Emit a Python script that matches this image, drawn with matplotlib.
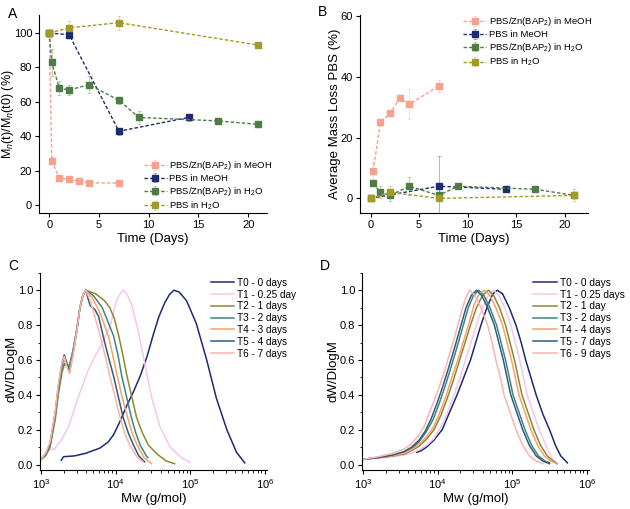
import numpy as np
import matplotlib
matplotlib.use("Agg")
import matplotlib.pyplot as plt
from matplotlib.ticker import MultipleLocator, LogLocator, NullFormatter

plt.rcParams['font.family'] = ['Liberation Sans', 'DejaVu Sans']
plt.rcParams['mathtext.fontset'] = 'custom'
plt.rcParams['mathtext.rm'] = 'Liberation Sans'
plt.rcParams['mathtext.it'] = 'Liberation Sans:italic'

# ---------------- data ----------------
# panel A: Mn(t)/Mn(t0) (%)
a_zn_meoh_x = [0, 0.25, 1, 2, 3, 4, 7]
a_zn_meoh_y = [100, 26, 16, 15, 14, 13, 13]
a_zn_meoh_err = [0, 2, 1, 1, 1, 1, 1]
a_pbs_meoh_x = [0, 2, 7, 14]
a_pbs_meoh_y = [100, 99, 43, 51]
a_pbs_meoh_err = [0, 2, 2, 2]
a_zn_h2o_x = [0, 0.25, 1, 2, 4, 7, 9, 17, 21]
a_zn_h2o_y = [100, 83, 68, 67, 70, 61, 51, 49, 47]
a_zn_h2o_err = [0, 8, 4, 3, 5, 2, 4, 1, 1]
a_pbs_h2o_x = [0, 2, 7, 21]
a_pbs_h2o_y = [100, 103, 106, 93]
a_pbs_h2o_err = [0, 4, 4, 1]

# panel B: average mass loss (%)
b_zn_meoh_x = [0.25, 1, 2, 3, 4, 7]
b_zn_meoh_y = [9, 25, 28, 33, 31, 37]
b_zn_meoh_err = [3, 1, 1, 1, 5, 2]
b_pbs_meoh_x = [0, 7, 14]
b_pbs_meoh_y = [0, 4, 3]
b_pbs_meoh_err = [0, 10, 1]
b_zn_h2o_x = [0.25, 1, 2, 4, 7, 9, 17, 21]
b_zn_h2o_y = [5, 2, 1, 4, 1, 4, 3, 1]
b_zn_h2o_err = [1, 2, 2, 3, 2, 1, 1, 1]
b_pbs_h2o_x = [0, 2, 7, 21]
b_pbs_h2o_y = [0, 2, 0, 1]
b_pbs_h2o_err = [1, 2, 1, 2]

series_labels = ['PBS/Zn(BAP$_2$) in MeOH', 'PBS in MeOH',
                 'PBS/Zn(BAP$_2$) in H$_2$O', 'PBS in H$_2$O']
series_colors = ['#f6a28e', '#1e2b70', '#4f7c45', '#a39a28']

# panel C: molecular weight distributions (log10 Mw, dW/dlogM)
c_labels = ['T0 - 0 days', 'T1 - 0.25 day', 'T2 - 1 days', 'T3 - 2 days',
            'T4 - 3 days', 'T5 - 4 days', 'T6 - 7 days']
c_logm = [
    [3.27, 3.30, 3.45, 3.60, 3.79, 3.90, 3.97, 4.06, 4.15, 4.24, 4.33, 4.42,
     4.50, 4.58, 4.66, 4.72, 4.78, 4.85, 4.95, 5.08, 5.22, 5.35, 5.49, 5.62,
     5.73],
    [3.00, 3.06, 3.12, 3.18, 3.27, 3.37, 3.50, 3.63, 3.72, 3.81, 3.92, 4.01,
     4.06, 4.10, 4.15, 4.21, 4.30, 4.39, 4.48, 4.59, 4.73, 4.88, 5.00],
    [3.00, 3.06, 3.12, 3.19, 3.23, 3.28, 3.31, 3.34, 3.38, 3.43, 3.48, 3.52,
     3.56, 3.60, 3.73, 3.85, 3.92, 3.98, 4.04, 4.10, 4.15, 4.22, 4.28, 4.36,
     4.44, 4.57, 4.68, 4.79],
    [3.00, 3.06, 3.12, 3.19, 3.23, 3.28, 3.31, 3.34, 3.38, 3.43, 3.48, 3.52,
     3.56, 3.60, 3.70, 3.82, 3.97, 4.03, 4.08, 4.15, 4.21, 4.27, 4.33, 4.41,
     4.43],
    [3.00, 3.06, 3.12, 3.19, 3.23, 3.28, 3.31, 3.34, 3.38, 3.43, 3.48, 3.52,
     3.56, 3.60, 3.68, 3.78, 3.90, 3.96, 4.02, 4.09, 4.16, 4.22, 4.29, 4.38,
     4.48],
    [3.00, 3.06, 3.12, 3.19, 3.23, 3.28, 3.31, 3.34, 3.38, 3.43, 3.48, 3.52,
     3.56, 3.60, 3.63, 3.66, 3.72, 3.77, 3.83, 3.90, 3.97, 4.04, 4.10, 4.17,
     4.24, 4.31, 4.39],
    [3.00, 3.06, 3.12, 3.19, 3.23, 3.28, 3.31, 3.34, 3.38, 3.43, 3.48, 3.52,
     3.56, 3.60, 3.65, 3.70, 3.79, 3.86, 3.92, 3.99, 4.06, 4.12, 4.19, 4.26,
     4.32, 4.37],
]
c_dw = [
    [0.025, 0.045, 0.05, 0.065, 0.095, 0.13, 0.17, 0.25, 0.34, 0.42, 0.51, 0.62,
     0.74, 0.85, 0.93, 0.975, 1.0, 0.99, 0.94, 0.81, 0.60, 0.38, 0.20, 0.07,
     0.01],
    [0.03, 0.07, 0.085, 0.09, 0.14, 0.22, 0.39, 0.54, 0.62, 0.69, 0.79, 0.94,
     0.98, 1.0, 0.98, 0.92, 0.77, 0.58, 0.39, 0.22, 0.10, 0.04, 0.013],
    [0.03, 0.05, 0.10, 0.26, 0.40, 0.53, 0.57, 0.57, 0.57, 0.66, 0.78, 0.90,
     0.97, 1.0, 0.98, 0.94, 0.90, 0.84, 0.74, 0.62, 0.51, 0.38, 0.27, 0.18,
     0.11, 0.055, 0.02, 0.005],
    [0.03, 0.055, 0.11, 0.28, 0.42, 0.55, 0.58, 0.57, 0.56, 0.66, 0.78, 0.90,
     0.97, 1.0, 0.97, 0.90, 0.74, 0.63, 0.51, 0.38, 0.27, 0.18, 0.11, 0.05,
     0.04],
    [0.03, 0.06, 0.12, 0.29, 0.44, 0.57, 0.60, 0.57, 0.54, 0.65, 0.78, 0.90,
     0.97, 1.0, 0.96, 0.88, 0.74, 0.63, 0.51, 0.38, 0.27, 0.18, 0.11, 0.04,
     0.005],
    [0.03, 0.06, 0.12, 0.30, 0.45, 0.58, 0.63, 0.59, 0.53, 0.64, 0.77, 0.90,
     0.97, 1.0, 0.95, 0.91, 0.89, 0.85, 0.74, 0.62, 0.51, 0.38, 0.27, 0.18,
     0.11, 0.05, 0.015],
    [0.03, 0.065, 0.13, 0.31, 0.46, 0.59, 0.62, 0.57, 0.52, 0.63, 0.77, 0.90,
     0.97, 1.0, 0.95, 0.88, 0.74, 0.62, 0.51, 0.39, 0.27, 0.18, 0.11, 0.06,
     0.03, 0.015],
]

# panel D
d_labels = ['T0 - 0 days', 'T1 - 0.25 days', 'T2 - 1 day', 'T3 - 2 days',
            'T4 - 4 days', 'T5 - 7 days', 'T6 - 9 days']
d_logm = [
    [3.72, 3.78, 3.85, 3.95, 4.06, 4.16, 4.26, 4.35, 4.44, 4.51, 4.58, 4.66,
     4.74, 4.80, 4.87, 4.96, 5.05, 5.12, 5.18, 5.25, 5.32, 5.41, 5.50, 5.58,
     5.65, 5.74],
    [3.00, 3.20, 3.40, 3.55, 3.65, 3.75, 3.85, 3.95, 4.05, 4.14, 4.22, 4.30,
     4.38, 4.46, 4.54, 4.62, 4.69, 4.75, 4.82, 4.90, 4.98, 5.04, 5.10, 5.15,
     5.20, 5.28, 5.36, 5.45, 5.53, 5.59],
    [3.00, 3.20, 3.40, 3.55, 3.65, 3.75, 3.85, 3.95, 4.04, 4.12, 4.20, 4.28,
     4.36, 4.44, 4.52, 4.60, 4.68, 4.75, 4.83, 4.91, 4.97, 5.03, 5.08, 5.13,
     5.21, 5.29, 5.38, 5.47, 5.55, 5.60],
    [3.00, 3.20, 3.40, 3.55, 3.65, 3.75, 3.85, 3.94, 4.02, 4.10, 4.18, 4.25,
     4.33, 4.41, 4.48, 4.55, 4.62, 4.70, 4.79, 4.85, 4.91, 4.96, 5.01, 5.09,
     5.17, 5.26, 5.35, 5.44, 5.50],
    [3.00, 3.20, 3.40, 3.55, 3.65, 3.75, 3.85, 3.95, 4.03, 4.11, 4.19, 4.27,
     4.34, 4.42, 4.49, 4.56, 4.63, 4.70, 4.78, 4.87, 4.93, 4.99, 5.04, 5.09,
     5.17, 5.25, 5.34, 5.43, 5.52, 5.59],
    [3.00, 3.20, 3.40, 3.55, 3.65, 3.75, 3.83, 3.91, 3.99, 4.07, 4.15, 4.22,
     4.30, 4.38, 4.45, 4.52, 4.59, 4.67, 4.76, 4.82, 4.88, 4.93, 4.98, 5.06,
     5.14, 5.23, 5.32, 5.41, 5.50],
    [3.00, 3.20, 3.40, 3.55, 3.65, 3.75, 3.82, 3.90, 4.00, 4.08, 4.15, 4.22,
     4.30, 4.37, 4.43, 4.50, 4.58, 4.67, 4.73, 4.78, 4.84, 4.89, 4.97, 5.05,
     5.14, 5.23, 5.32, 5.41],
]
d_dw = [
    [0.07, 0.08, 0.10, 0.14, 0.20, 0.30, 0.40, 0.50, 0.60, 0.70, 0.80, 0.90,
     0.98, 1.0, 0.98, 0.90, 0.80, 0.70, 0.60, 0.50, 0.40, 0.29, 0.20, 0.11,
     0.05, 0.01],
    [0.03, 0.035, 0.045, 0.055, 0.065, 0.085, 0.11, 0.15, 0.22, 0.31, 0.40,
     0.50, 0.61, 0.72, 0.83, 0.92, 0.98, 1.0, 0.97, 0.90, 0.80, 0.70, 0.60,
     0.50, 0.40, 0.30, 0.20, 0.11, 0.04, 0.01],
    [0.03, 0.04, 0.05, 0.06, 0.08, 0.105, 0.145, 0.20, 0.28, 0.37, 0.47, 0.58,
     0.69, 0.80, 0.90, 0.97, 1.0, 0.97, 0.90, 0.80, 0.70, 0.60, 0.50, 0.40,
     0.30, 0.20, 0.11, 0.05, 0.02, 0.005],
    [0.03, 0.04, 0.05, 0.07, 0.09, 0.13, 0.19, 0.26, 0.35, 0.45, 0.56, 0.66,
     0.78, 0.90, 0.97, 1.0, 0.97, 0.90, 0.80, 0.70, 0.60, 0.50, 0.40, 0.30,
     0.20, 0.11, 0.05, 0.02, 0.01],
    [0.03, 0.04, 0.05, 0.065, 0.085, 0.115, 0.16, 0.22, 0.30, 0.39, 0.50,
     0.60, 0.70, 0.81, 0.92, 0.98, 1.0, 0.97, 0.90, 0.80, 0.70, 0.60, 0.50,
     0.40, 0.30, 0.20, 0.11, 0.05, 0.02, 0.005],
    [0.03, 0.04, 0.055, 0.075, 0.10, 0.14, 0.19, 0.26, 0.35, 0.45, 0.56, 0.66,
     0.78, 0.90, 0.97, 1.0, 0.97, 0.90, 0.80, 0.70, 0.60, 0.50, 0.40, 0.30,
     0.20, 0.11, 0.05, 0.02, 0.005],
    [0.03, 0.045, 0.065, 0.09, 0.12, 0.17, 0.22, 0.31, 0.42, 0.52, 0.62, 0.72,
     0.85, 0.95, 1.0, 0.97, 0.90, 0.80, 0.70, 0.60, 0.50, 0.40, 0.30, 0.20,
     0.11, 0.05, 0.02, 0.005],
]
gpc_colors = ['#1e2b70', '#f5c6f2', '#8c8a2e', '#3f8580', '#f7a36a',
              '#2f5d7e', '#f9b6ae']

# ---------------- figure ----------------
fig = plt.figure(figsize=(6.3, 5.09), dpi=100)
axA = fig.add_axes([0.062, 0.581, 0.362, 0.389])
axB = fig.add_axes([0.571, 0.581, 0.362, 0.389])
axC = fig.add_axes([0.0635, 0.077, 0.3605, 0.387])
axD = fig.add_axes([0.5746, 0.077, 0.3604, 0.387])

tick_fs = 8
label_fs = 9.5


def style_axes(ax):
    for s in ['top', 'right']:
        ax.spines[s].set_visible(False)
    for s in ['left', 'bottom']:
        ax.spines[s].set_linewidth(0.8)
    ax.tick_params(labelsize=tick_fs, width=0.8, length=3, direction='out',
                   pad=2)
    ax.tick_params(which='minor', width=0.6, length=1.8)


def time_panel(ax, sets):
    for (x, y, e), lab, col in zip(sets, series_labels, series_colors):
        ax.errorbar(x, y, yerr=e, color=col, ls=(0, (2.5, 1.5)), lw=1,
                    marker='s', ms=5, mec=col, ecolor=matplotlib.colors.to_rgba(col, 0.35),
                    elinewidth=0.7, capsize=1.5, capthick=0.7, label=lab)
    style_axes(ax)
    ax.set_xlabel('Time (Days)', fontsize=label_fs, labelpad=2)
    ax.xaxis.set_major_locator(MultipleLocator(5))


leg_kw = dict(fontsize=6.8, frameon=False, handlelength=2.4, numpoints=1,
              labelspacing=0.2, handletextpad=0.3, borderpad=0,
              borderaxespad=0)

time_panel(axA, [(a_zn_meoh_x, a_zn_meoh_y, a_zn_meoh_err),
                 (a_pbs_meoh_x, a_pbs_meoh_y, a_pbs_meoh_err),
                 (a_zn_h2o_x, a_zn_h2o_y, a_zn_h2o_err),
                 (a_pbs_h2o_x, a_pbs_h2o_y, a_pbs_h2o_err)])
axA.set_xlim(-1.03, 21.9)
axA.set_ylim(-4.6, 110.3)
axA.yaxis.set_major_locator(MultipleLocator(20))
axA.set_ylabel('M$_n$(t)/M$_n$(t0) (%)', fontsize=9)
axA.yaxis.set_label_coords(-0.10, 0.5)
axA.legend(loc='lower left', bbox_to_anchor=(0.46, 0.005), **leg_kw)

time_panel(axB, [(b_zn_meoh_x, b_zn_meoh_y, b_zn_meoh_err),
                 (b_pbs_meoh_x, b_pbs_meoh_y, b_pbs_meoh_err),
                 (b_zn_h2o_x, b_zn_h2o_y, b_zn_h2o_err),
                 (b_pbs_h2o_x, b_pbs_h2o_y, b_pbs_h2o_err)])
axB.set_xlim(-1.13, 22.4)
axB.set_ylim(-4.9, 60.3)
axB.yaxis.set_major_locator(MultipleLocator(20))
axB.set_ylabel('Average Mass Loss PBS (%)', fontsize=label_fs)
axB.yaxis.set_label_coords(-0.08, 0.5)
axB.legend(loc='upper left', bbox_to_anchor=(0.455, 1.0), **leg_kw)


def gpc_panel(ax, logms, dws, labels, ylab, fs):
    for lm, dw, lab, col in zip(logms, dws, labels, gpc_colors):
        ax.plot(10 ** np.array(lm), dw, color=col, lw=1.1, label=lab)
    style_axes(ax)
    ax.set_xscale('log')
    ax.set_xlim(10 ** 2.985, 10 ** 6.03)
    ax.set_ylim(-0.03, 1.1)
    ax.set_xticks([1e3, 1e4, 1e5, 1e6])
    ax.xaxis.set_minor_locator(LogLocator(base=10, subs=np.arange(2, 10)))
    ax.xaxis.set_minor_formatter(NullFormatter())
    ax.yaxis.set_major_locator(MultipleLocator(0.2))
    ax.yaxis.set_minor_locator(MultipleLocator(0.1))
    ax.yaxis.set_major_formatter(plt.FuncFormatter(lambda v, p: f'{v:.1f}'))
    ax.set_xlabel('Mw (g/mol)', fontsize=label_fs, labelpad=2)
    ax.set_ylabel(ylab, fontsize=label_fs)
    ax.legend(loc='upper left', bbox_to_anchor=(0.755, 0.975), fontsize=fs,
              frameon=False, handlelength=2.3, labelspacing=0.18,
              handletextpad=0.3, borderpad=0, borderaxespad=0)


gpc_panel(axC, c_logm, c_dw, c_labels, 'dW/DLogM', 7.2)
axC.yaxis.set_label_coords(-0.10, 0.51)
gpc_panel(axD, d_logm, d_dw, d_labels, 'dW/DlogM', 7.3)
axD.yaxis.set_label_coords(-0.098, 0.5)

fig.text(0.013, 0.965, 'A', fontsize=10)
fig.text(0.505, 0.969, 'B', fontsize=10)
fig.text(0.013, 0.470, 'C', fontsize=10)
fig.text(0.508, 0.470, 'D', fontsize=10)

fig.savefig('out.png', dpi=100)
